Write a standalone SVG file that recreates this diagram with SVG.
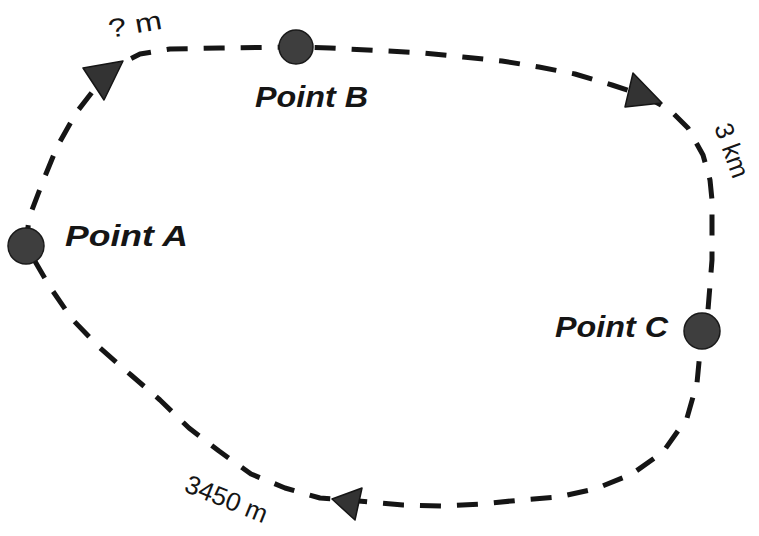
<svg xmlns="http://www.w3.org/2000/svg" width="759" height="536" viewBox="0 0 759 536">
<style>
.route{fill:none;stroke:#151515;stroke-width:5;stroke-dasharray:21 16;stroke-linejoin:round}
.arrow{fill:#333;stroke:#151515;stroke-width:1.5;stroke-linejoin:round}
.dot{fill:#3e3e3e;stroke:#1a1a1a;stroke-width:1.5}
.plabel{font-family:"Liberation Sans",Arial,sans-serif;font-weight:bold;font-style:italic;font-size:30px;fill:#151515}
.elabel{font-family:"Liberation Sans",Arial,sans-serif;font-size:26px;fill:#151515}
</style>
<rect width="759" height="536" fill="#fff"/>
<g id="connectors">
<path class="route" d="M26,246 L29,218 L43,181 L57,147 L76,113 L100,82 L120,64 L140,54 L170,49 L220,48 L296,47 L330,48 L424,53 L463,57 L502,61 L539,67 L575,74 L612,85 L643,95 L670,110 L688,128 L703,155 L710,180 L712,200 L712,260 L708,310 L702,331 L697,383 L687,418 L663,452 L632,474 L595,489 L558,497 L521,500 L482,504 L444,506 L403,505 L347,500 L320,498 L285,488 L251,474 L219,451 L189,428 L160,400 L131,375 L100,348 L72,319 L50,287 L26,246"/>
<polygon class="arrow" points="83,68 123,61 104,100"/>
<polygon class="arrow" points="633,73 662,103 625,107"/>
<polygon class="arrow" points="332,499 362,488 355,520"/>
<text class="elabel" transform="translate(110,38) rotate(-10)" font-size="27" textLength="54" lengthAdjust="spacingAndGlyphs">? m</text>
<text class="elabel" transform="translate(714,127) rotate(70)" font-size="24">3 km</text>
<text class="elabel" transform="translate(183,491) rotate(22)" font-size="27">3450 m</text>
</g>
<g id="pointA">
<circle class="dot" cx="26" cy="246" r="18"/>
<text class="plabel" x="65" y="246" textLength="123" lengthAdjust="spacingAndGlyphs">Point A</text>
</g>
<g id="pointB">
<circle class="dot" cx="296" cy="47" r="17"/>
<text class="plabel" x="255" y="107" textLength="113" lengthAdjust="spacingAndGlyphs">Point B</text>
</g>
<g id="pointC">
<circle class="dot" cx="702" cy="331" r="18"/>
<text class="plabel" x="555" y="337" textLength="113" lengthAdjust="spacingAndGlyphs">Point C</text>
</g>
</svg>
